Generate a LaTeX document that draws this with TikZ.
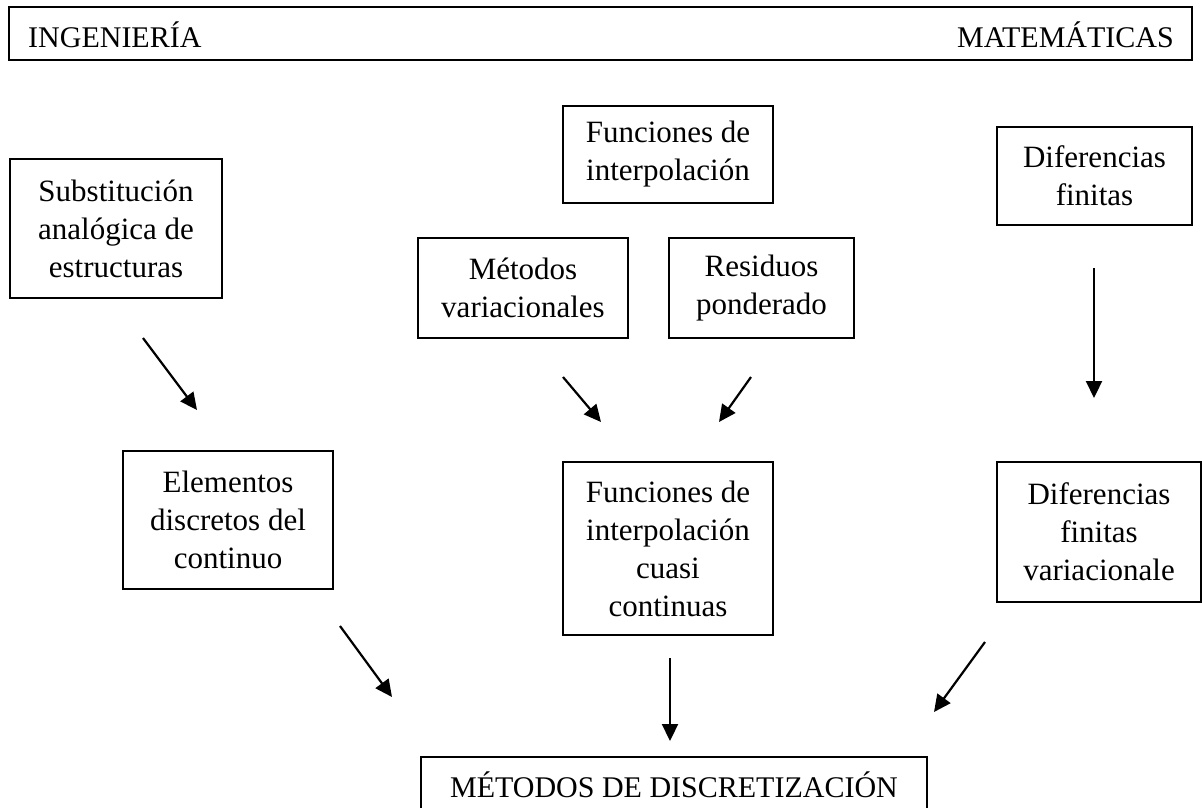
\documentclass[tikz,border=0pt]{standalone}
\usepackage{fontspec}
\setmainfont{Liberation Serif}
\usepackage{tikz}
\usetikzlibrary{arrows.meta}
\definecolor{figline}{RGB}{0,0,0}
\tikzset{
  bx/.style  ={draw=figline, line width=1.8pt, inner sep=0pt, align=center, font=\fontsize{31}{38}\selectfont},
  lab/.style ={inner sep=0pt, font=\fontsize{30}{36}\selectfont},
  ptr/.style ={draw=figline, line width=2.2pt, -{Triangle[length=17pt,width=16pt]}},
}
\begin{document}
\begin{tikzpicture}[x=1pt,y=-1pt]
  \clip (0,0) rectangle (1202,807);
  \fill[white] (0,0) rectangle (1202,807);
  \node[bx,minimum width=1183pt,minimum height=53pt] (banner) at (600.5,33.5) {};
  \node[lab,anchor=west] (ing) at (28,35) {INGENIERÍA};
  \node[lab,anchor=east] (mat) at (1174,35) {MATEMÁTICAS};
  \node[bx,minimum width=212pt,minimum height=139pt] (subst) at (116,228.5) {Substitución\\analógica de\\estructuras};
  \node[bx,minimum width=210pt,minimum height=97pt] (finterp) at (668,154.5) {Funciones de\\interpolación};
  \node[bx,minimum width=210pt,minimum height=100pt] (mvar) at (523,288) {Métodos\\variacionales};
  \node[bx,minimum width=185pt,minimum height=100pt] (resid) at (761.5,288) {Residuos\\ponderado};
  \node[bx,minimum width=195pt,minimum height=98pt] (dfin) at (1094.5,176) {Diferencias\\finitas};
  \node[bx,minimum width=210pt,minimum height=138pt] (elem) at (228,520) {Elementos\\discretos del\\continuo};
  \node[bx,minimum width=210pt,minimum height=173pt] (cuasi) at (668,548.5) {Funciones de\\interpolación\\cuasi\\continuas};
  \node[bx,minimum width=204pt,minimum height=140pt] (dvar) at (1099,532) {Diferencias\\finitas\\variacionale};
  \node[bx,minimum width=506pt,minimum height=56pt,font=\fontsize{30}{36}\selectfont] (metodos) at (674,785) {MÉTODOS DE DISCRETIZACIÓN};
  \coordinate (a1s) at (143,338);  \coordinate (a1e) at (197,410);
  \coordinate (a2s) at (563,377);  \coordinate (a2e) at (601,422);
  \coordinate (a3s) at (751,377);  \coordinate (a3e) at (719,422);
  \coordinate (a4s) at (1094,268); \coordinate (a4e) at (1094,398);
  \coordinate (a5s) at (340,626);  \coordinate (a5e) at (392,697);
  \coordinate (a6s) at (670,658);  \coordinate (a6e) at (670,741);
  \coordinate (a7s) at (985,642);  \coordinate (a7e) at (934,712);
  \draw[ptr] (a1s) -- (a1e);
  \draw[ptr] (a2s) -- (a2e);
  \draw[ptr] (a3s) -- (a3e);
  \draw[ptr] (a4s) -- (a4e);
  \draw[ptr] (a5s) -- (a5e);
  \draw[ptr] (a6s) -- (a6e);
  \draw[ptr] (a7s) -- (a7e);
\end{tikzpicture}
\end{document}
